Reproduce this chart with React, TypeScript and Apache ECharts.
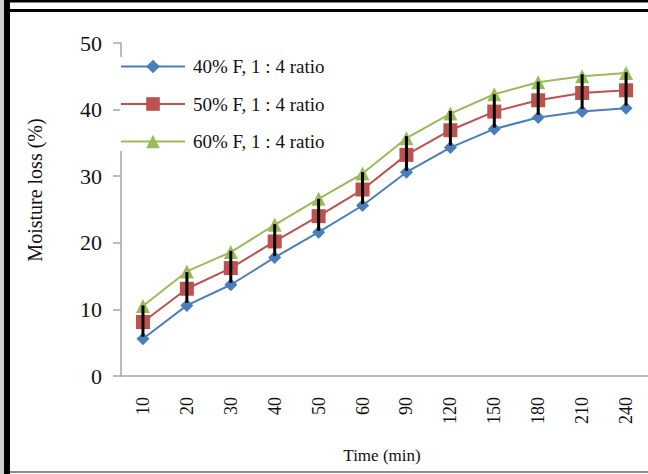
import React, { useEffect, useRef } from "react";
import * as echarts from "echarts";

const categories = ["10", "20", "30", "40", "50", "60", "90", "120", "150", "180", "210", "240"];
const series40 = [5.6, 10.6, 13.7, 17.8, 21.6, 25.6, 30.6, 34.3, 37.1, 38.8, 39.7, 40.2];
const series50 = [8.1, 13.1, 16.2, 20.2, 24.0, 28.0, 33.2, 36.9, 39.7, 41.4, 42.5, 42.9];
const series60 = [10.5, 15.7, 18.6, 22.7, 26.6, 30.4, 35.7, 39.4, 42.3, 44.1, 45.0, 45.5];
const errLow = [5.9, 11.0, 14.0, 18.0, 21.8, 25.8, 30.8, 34.6, 37.3, 39.2, 40.1, 40.6];
const errHigh = [10.6, 15.6, 18.8, 22.8, 26.6, 30.6, 36.0, 39.8, 42.3, 44.2, 45.3, 45.6];
const legendNames = ["40% F, 1 : 4 ratio", "50% F, 1 : 4 ratio", "60% F, 1 : 4 ratio"];
const yTitle = "Moisture loss (%)";
const xTitle = "Time (min)";

const FONT = "'Liberation Serif', 'Times New Roman', serif";

export default function App() {
  const ref = useRef<HTMLDivElement>(null);
  useEffect(() => {
    if (!ref.current) return;
    const chart = echarts.init(ref.current, undefined, { renderer: "svg" });
    const errData = categories.map((_, i) => [i, errLow[i], errHigh[i]]);
    chart.setOption({
      animation: false,
      backgroundColor: "#ffffff",
      textStyle: { fontFamily: FONT },
      grid: { left: 121, right: -13, top: 43, bottom: 98, containLabel: false },
      legend: {
        orient: "vertical",
        left: 120,
        top: 57,
        padding: 0,
        itemWidth: 64,
        itemHeight: 17,
        itemGap: 18.5,
        backgroundColor: "#ffffff",
        data: legendNames,
        textStyle: { fontFamily: FONT, fontSize: 19, color: "#111", padding: [0, 0, 0, 3] },
      },
      xAxis: {
        type: "category",
        data: categories,
        boundaryGap: true,
        axisLine: { lineStyle: { color: "#a6a6a6", width: 1.5 } },
        axisTick: { alignWithLabel: true, length: 6, lineStyle: { color: "#a6a6a6", width: 1.5 } },
        axisLabel: { rotate: 90, fontSize: 18, color: "#111", margin: 21, fontFamily: FONT },
        splitLine: { show: false },
      },
      yAxis: {
        type: "value",
        min: 0,
        max: 50,
        interval: 10,
        axisLine: { show: true, lineStyle: { color: "#a6a6a6", width: 1.5 } },
        axisTick: { show: true, length: 8, lineStyle: { color: "#a6a6a6", width: 1.5 } },
        axisLabel: { fontSize: 22, color: "#111", margin: 19, fontFamily: FONT },
        splitLine: { show: false },
      },
      series: [
        {
          name: legendNames[0],
          type: "line",
          data: series40,
          symbol: "diamond",
          symbolSize: 13,
          itemStyle: { color: "#4a7ebb" },
          lineStyle: { color: "#4a7ebb", width: 2 },
          z: 3,
        },
        {
          name: legendNames[1],
          type: "line",
          data: series50,
          symbol: "rect",
          symbolSize: 14,
          itemStyle: { color: "#c0504d" },
          lineStyle: { color: "#c0504d", width: 2 },
          z: 3,
        },
        {
          name: legendNames[2],
          type: "line",
          data: series60,
          symbol: "triangle",
          symbolSize: 14,
          itemStyle: { color: "#9bbb59" },
          lineStyle: { color: "#9bbb59", width: 2 },
          z: 3,
        },
        {
          type: "custom",
          name: "error",
          data: errData,
          z: 5,
          renderItem: (params: any, api: any) => {
            const x = api.value(0);
            const lo = api.coord([x, api.value(1)]);
            const hi = api.coord([x, api.value(2)]);
            return {
              type: "line",
              shape: { x1: lo[0], y1: lo[1], x2: hi[0], y2: hi[1] },
              style: { stroke: "#000000", lineWidth: 3 },
            };
          },
        },
      ],
      graphic: [
        { type: "rect", shape: { x: 0, y: 0, width: 4, height: 474 }, style: { fill: "#cfcfcf" }, z: 100 },
        { type: "rect", shape: { x: 4, y: 0, width: 644, height: 2.5 }, style: { fill: "#000" }, z: 100 },
        { type: "rect", shape: { x: 7, y: 9, width: 641, height: 3 }, style: { fill: "#000" }, z: 100 },
        { type: "rect", shape: { x: 4, y: 0, width: 6, height: 474 }, style: { fill: "#000" }, z: 100 },
        { type: "rect", shape: { x: 10, y: 471, width: 638, height: 2 }, style: { fill: "#8c8c8c" }, z: 100 },
        {
          type: "text",
          x: 35,
          y: 190,
          rotation: Math.PI / 2,
          style: {
            text: yTitle,
            fontFamily: FONT,
            fontSize: 20,
            fill: "#111",
            align: "center",
            verticalAlign: "middle",
          },
          z: 100,
        },
        {
          type: "text",
          x: 382,
          y: 455,
          style: {
            text: xTitle,
            fontFamily: FONT,
            fontSize: 17,
            fill: "#111",
            align: "center",
            verticalAlign: "middle",
          },
          z: 100,
        },
      ],
    });
    return () => chart.dispose();
  }, []);
  return (
    <div
      ref={ref}
      style={{ position: "absolute", left: 0, top: 0, width: 648, height: 474 }}
    />
  );
}
